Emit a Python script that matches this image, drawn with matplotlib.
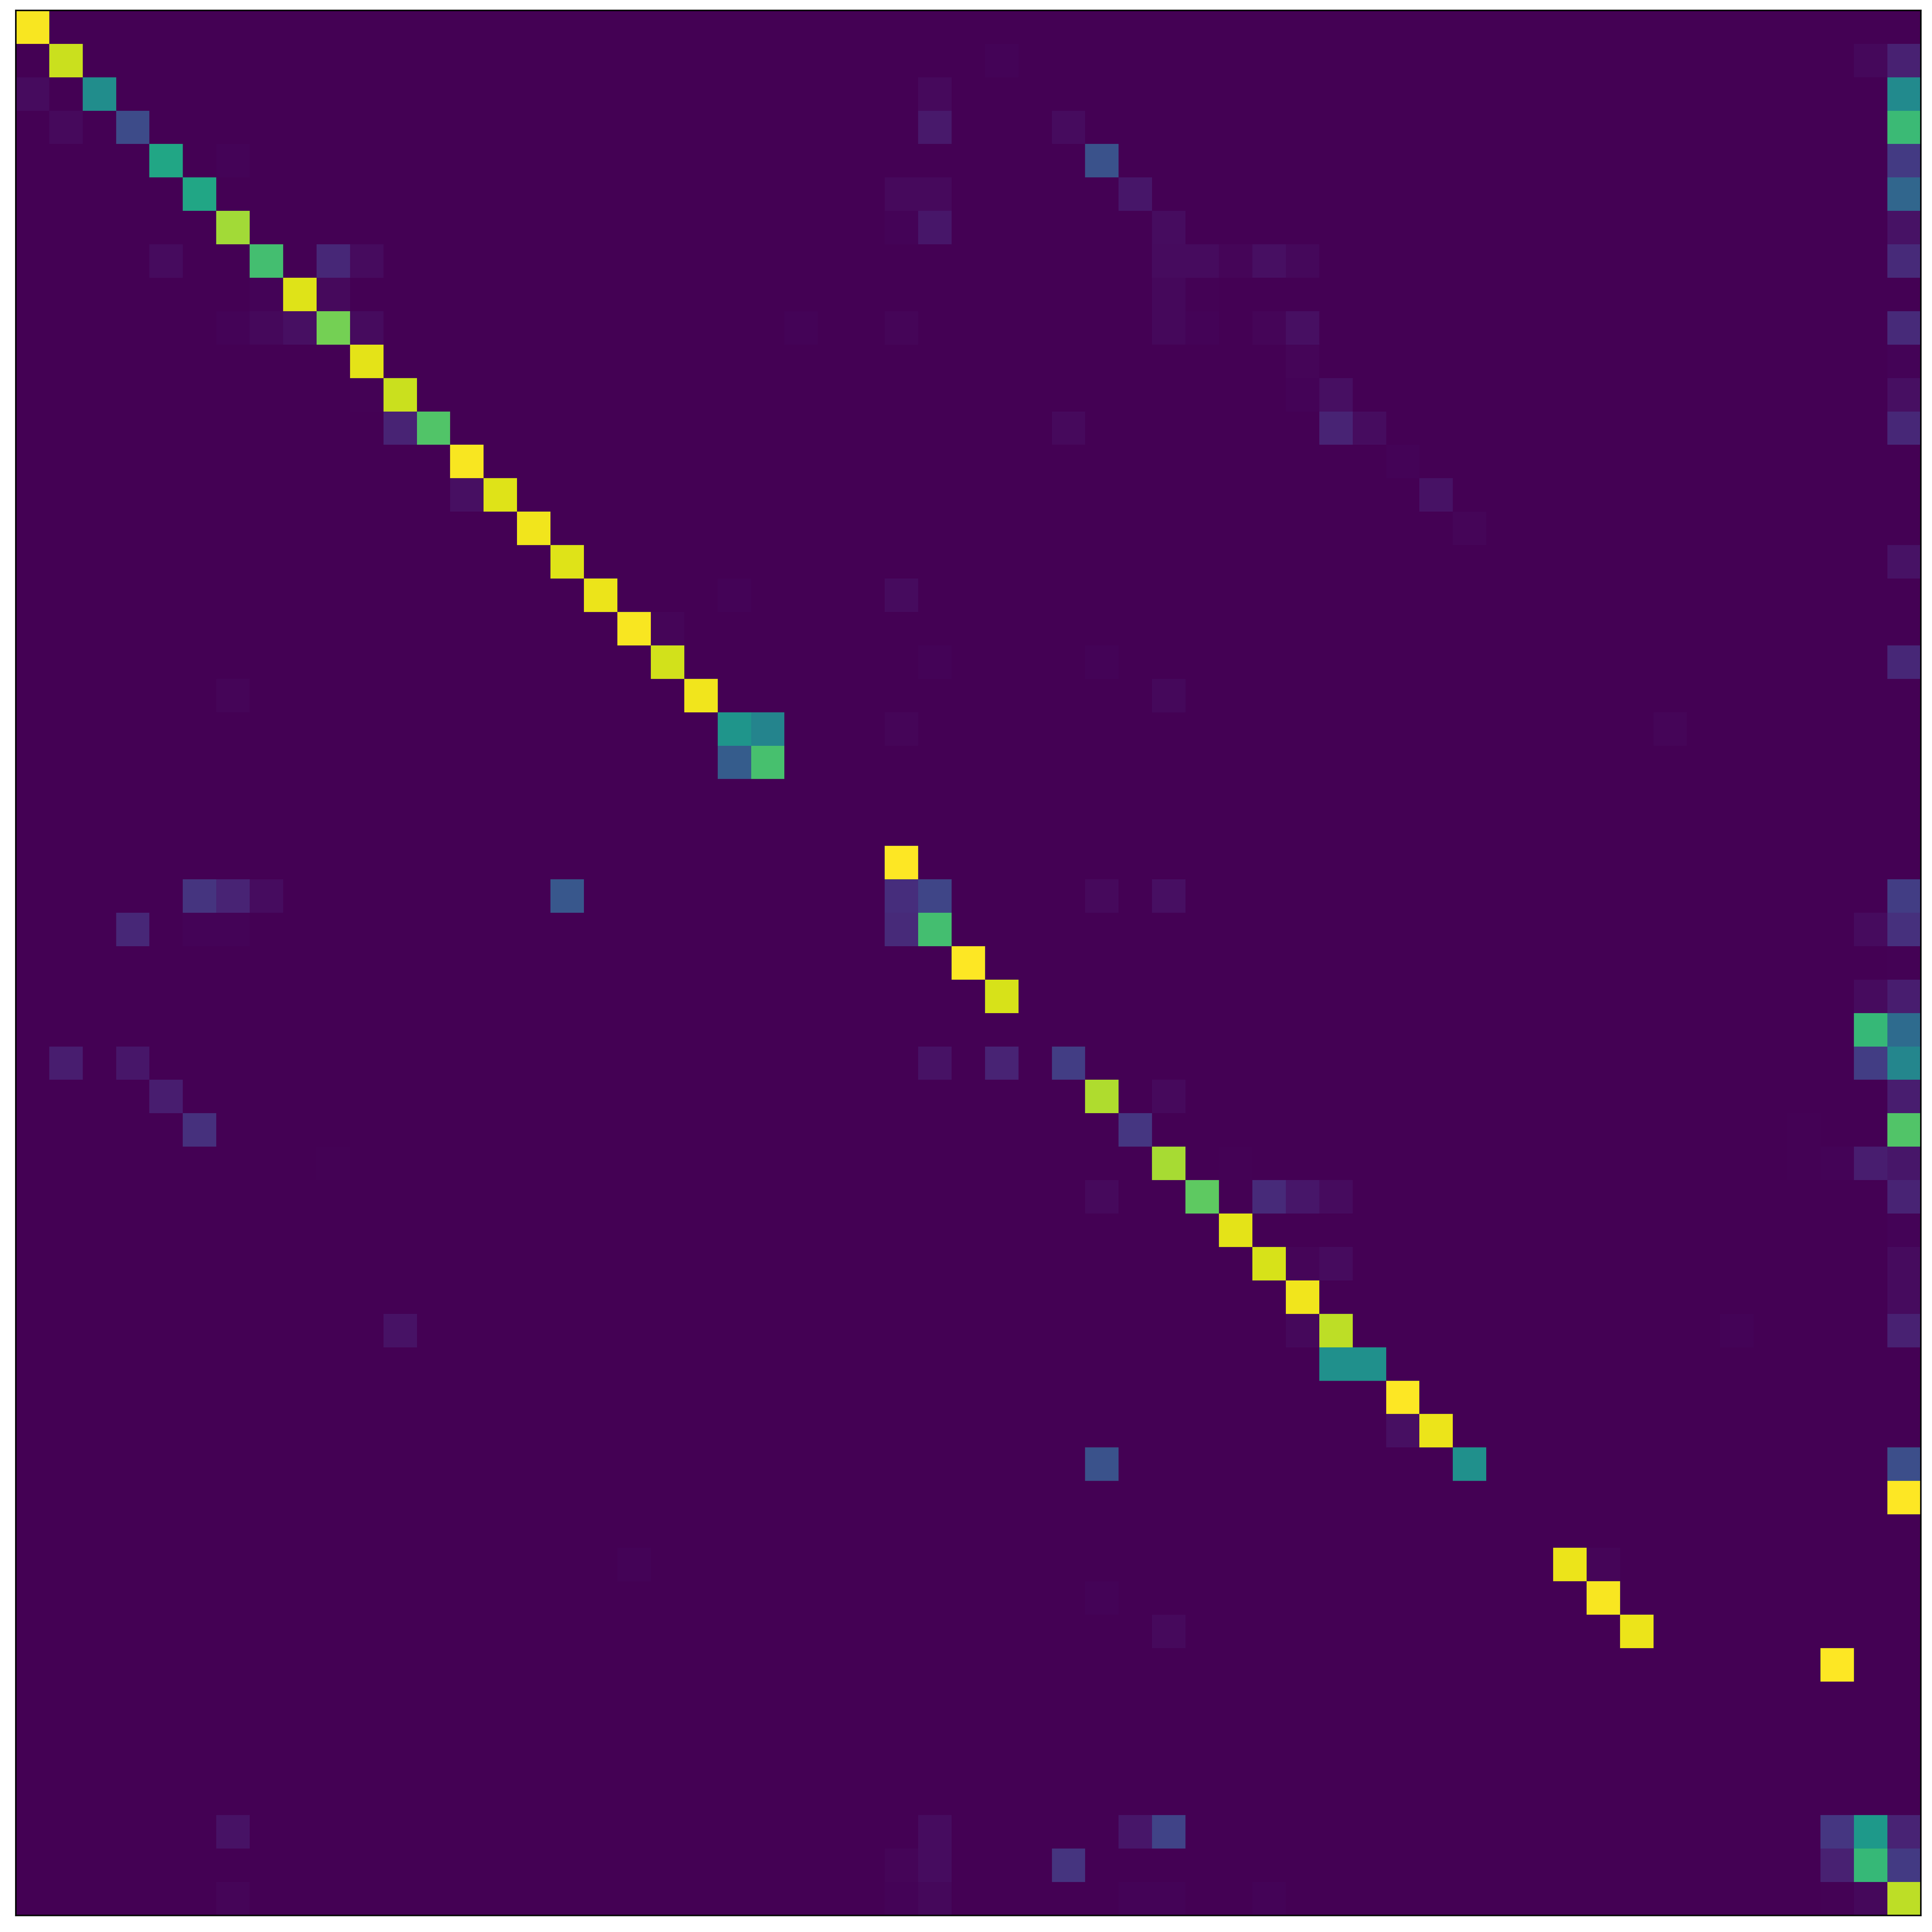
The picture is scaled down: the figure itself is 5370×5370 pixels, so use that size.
import numpy as np
import matplotlib
matplotlib.use("Agg")
import matplotlib.pyplot as plt

n_classes = 57

# sparse entries of the (row-normalised) confusion matrix: row, column, value
row_idx = [
    0,
    1, 1, 1, 1,
    2, 2, 2, 2,
    3, 3, 3, 3, 3,
    4, 4, 4, 4,
    5, 5, 5, 5, 5,
    6, 6, 6, 6, 6,
    7, 7, 7, 7, 7, 7, 7, 7, 7, 7,
    8, 8, 8, 8, 8,
    9, 9, 9, 9, 9, 9, 9, 9, 9, 9, 9, 9,
    10, 10, 10,
    11, 11, 11, 11, 11,
    12, 12, 12, 12, 12, 12,
    13, 13,
    14, 14, 14,
    15, 15,
    16, 16,
    17, 17, 17,
    18, 18,
    19, 19, 19, 19,
    20, 20, 20,
    21, 21, 21, 21,
    22, 22,
    25,
    26, 26, 26, 26, 26, 26, 26, 26, 26,
    27, 27, 27, 27, 27, 27, 27,
    28, 28,
    29, 29, 29,
    30, 30,
    31, 31, 31, 31, 31, 31, 31,
    32, 32, 32, 32,
    33, 33, 33, 33,
    34, 34, 34, 34, 34, 34, 34,
    35, 35, 35, 35, 35, 35,
    36, 36,
    37, 37, 37, 37,
    38, 38,
    39, 39, 39, 39, 39,
    40, 40,
    41,
    42, 42,
    43, 43, 43,
    44,
    46, 46, 46,
    47, 47,
    48, 48,
    49,
    54, 54, 54, 54, 54, 54, 54,
    55, 55, 55, 55, 55, 55,
    56, 56, 56, 56, 56, 56, 56, 56, 56,
]
col_idx = [
    0,
    1, 29, 55, 56,
    0, 2, 27, 56,
    1, 3, 27, 31, 56,
    4, 6, 32, 56,
    5, 26, 27, 33, 56,
    6, 26, 27, 34, 56,
    4, 7, 9, 10, 34, 35, 36, 37, 38, 56,
    7, 8, 9, 34, 35,
    6, 7, 8, 9, 10, 23, 26, 34, 35, 37, 38, 56,
    10, 38, 56,
    10, 11, 38, 39, 56,
    11, 12, 31, 39, 40, 56,
    13, 41,
    13, 14, 42,
    15, 43,
    16, 56,
    17, 21, 26,
    18, 19,
    19, 27, 32, 56,
    6, 20, 34,
    21, 22, 26, 49,
    21, 22,
    26,
    5, 6, 7, 16, 26, 27, 32, 34, 56,
    3, 5, 6, 26, 27, 55, 56,
    28, 56,
    29, 55, 56,
    55, 56,
    1, 3, 27, 29, 31, 55, 56,
    4, 32, 34, 56,
    5, 33, 53, 56,
    9, 34, 36, 53, 54, 55, 56,
    32, 35, 37, 38, 39, 56,
    36, 56,
    37, 38, 39, 56,
    38, 56,
    11, 38, 39, 51, 56,
    39, 40,
    41,
    41, 42,
    32, 43, 56,
    56,
    18, 46, 47,
    32, 47,
    34, 48,
    54,
    6, 27, 33, 34, 54, 55, 56,
    26, 27, 31, 54, 55, 56,
    6, 26, 27, 33, 34, 37, 54, 55, 56,
]
values = [
    0.99,
    0.92, 0.01, 0.02, 0.09,
    0.03, 0.49, 0.025, 0.48,
    0.025, 0.23, 0.07, 0.03, 0.68,
    0.59, 0.01, 0.25, 0.17,
    0.59, 0.025, 0.025, 0.06, 0.33,
    0.86, 0.01, 0.06, 0.035, 0.05,
    0.03, 0.70, 0.11, 0.03, 0.03, 0.03, 0.015, 0.04, 0.02, 0.12,
    0.01, 0.95, 0.025, 0.02, 0.005,
    0.01, 0.02, 0.04, 0.79, 0.03, 0.01, 0.015, 0.02, 0.01, 0.015, 0.04, 0.12,
    0.96, 0.015, 0.01,
    0.005, 0.92, 0.01, 0.04, 0.04,
    0.10, 0.73, 0.025, 0.10, 0.035, 0.11,
    0.99, 0.01,
    0.04, 0.95, 0.05,
    0.98, 0.015,
    0.95, 0.05,
    0.97, 0.01, 0.03,
    0.99, 0.015,
    0.93, 0.01, 0.01, 0.11,
    0.015, 0.98, 0.02,
    0.52, 0.45, 0.015, 0.015,
    0.29, 0.71,
    1.00,
    0.15, 0.10, 0.035, 0.27, 0.13, 0.21, 0.025, 0.04, 0.18,
    0.11, 0.01, 0.01, 0.12, 0.70, 0.03, 0.14,
    1.00, 0.005,
    0.94, 0.03, 0.08,
    0.67, 0.35,
    0.08, 0.06, 0.05, 0.10, 0.18, 0.18, 0.46,
    0.08, 0.88, 0.025, 0.08,
    0.14, 0.16, 0.005, 0.73,
    0.005, 0.87, 0.005, 0.005, 0.01, 0.08, 0.06,
    0.025, 0.75, 0.12, 0.06, 0.03, 0.10,
    0.96, 0.01,
    0.94, 0.015, 0.03, 0.03,
    0.98, 0.03,
    0.05, 0.02, 0.90, 0.01, 0.09,
    0.50, 0.50,
    1.00,
    0.04, 0.97,
    0.25, 0.50, 0.24,
    1.00,
    0.01, 0.97, 0.015,
    0.01, 0.99,
    0.025, 0.97,
    1.00,
    0.05, 0.035, 0.06, 0.20, 0.16, 0.54, 0.10,
    0.015, 0.035, 0.15, 0.09, 0.67, 0.17,
    0.015, 0.01, 0.02, 0.01, 0.01, 0.01, 0.005, 0.02, 0.90,
]

matrix = np.zeros((n_classes, n_classes))
matrix[row_idx, col_idx] = values

W = H = 5370
dpi = 300
fig = plt.figure(figsize=(W / dpi, H / dpi), dpi=dpi)
fig.patch.set_facecolor("white")
left = 44 / W
bottom = (H - 5324) / H
size = 5295 / W
ax = fig.add_axes([left, bottom, size, size])
ax.imshow(matrix, cmap="viridis", vmin=0, vmax=1, interpolation="nearest", aspect="auto")
ax.set_xticks([])
ax.set_yticks([])
for s in ax.spines.values():
    s.set_linewidth(1.0)
    s.set_color("black")

fig.savefig("out.png", dpi=dpi)
